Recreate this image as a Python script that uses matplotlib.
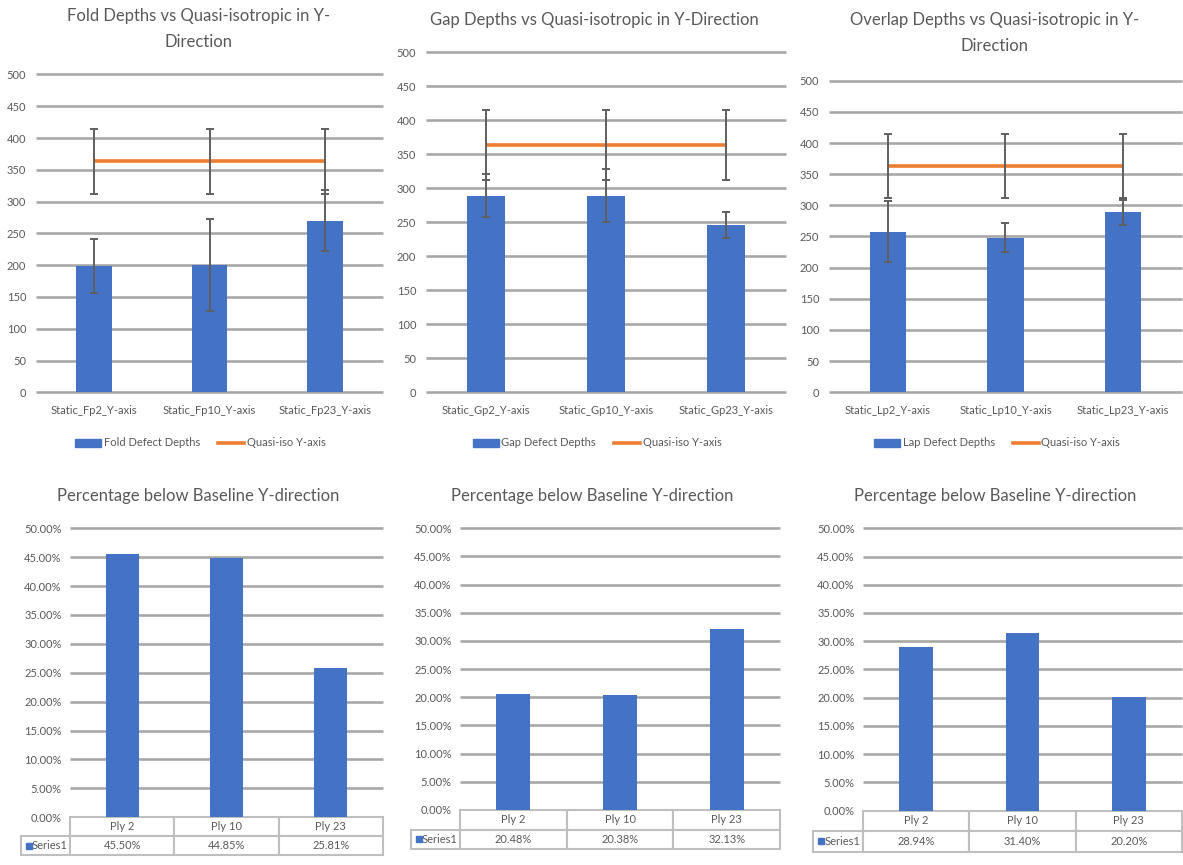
import numpy as np
import matplotlib.pyplot as plt
from matplotlib.patches import Patch
from matplotlib.lines import Line2D
from matplotlib.ticker import MultipleLocator, PercentFormatter

plt.rcParams['font.family'] = ['Lato', 'DejaVu Sans']

# --- data -------------------------------------------------------------
fold_labels = ['Static_Fp2_Y-axis', 'Static_Fp10_Y-axis', 'Static_Fp23_Y-axis']
fold_depth = [198, 200, 270]
fold_err = [42.5, 72, 48]

gap_labels = ['Static_Gp2_Y-axis', 'Static_Gp10_Y-axis', 'Static_Gp23_Y-axis']
gap_depth = [289, 289, 246]
gap_err = [31.5, 39, 19.5]

lap_labels = ['Static_Lp2_Y-axis', 'Static_Lp10_Y-axis', 'Static_Lp23_Y-axis']
lap_depth = [258, 248, 289]
lap_err = [49, 23, 20]

quasi_y = [363.5, 363.5, 363.5]
quasi_err = [51.5, 51.5, 51.5]

ply_labels = ['Ply 2', 'Ply 10', 'Ply 23']
fold_pct = [45.50, 44.85, 25.81]
gap_pct = [20.48, 20.38, 32.13]
lap_pct = [28.94, 31.40, 20.20]

# --- style ------------------------------------------------------------
W, H = 1183, 865
BLUE = '#4472C4'
ORANGE = '#ED7D31'
TXT = '#595959'
GRID = '#A8A8A8'
ERR = '#5F5F5F'

fig = plt.figure(figsize=(W / 100, H / 100), dpi=100)


def px_axes(x0, y0, x1, y1):
    return fig.add_axes([x0 / W, 1 - y1 / H, (x1 - x0) / W, (y1 - y0) / H])


def px_text(x, y, s, **kw):
    fig.text(x / W, 1 - y / H, s, ha='center', va='center', color=TXT, **kw)


def clean(ax, ticks, lo, hi):
    for s in ax.spines.values():
        s.set_visible(False)
    ax.hlines(ticks, lo, hi, color=GRID, lw=1.9, zorder=0, clip_on=False)


def depth_panel(box, title, title_xy, labels, depth, err, name, leg_xy):
    ax = px_axes(*box)
    x = np.arange(len(labels))
    ax.bar(x, depth, width=0.31, color=BLUE, zorder=2)
    ax.errorbar(x, depth, yerr=err, fmt='none', ecolor=ERR, elinewidth=1.4,
                capsize=3, capthick=1.4, zorder=3)
    ax.plot(x, quasi_y, color=ORANGE, lw=2.6, solid_capstyle='butt', zorder=4)
    ax.errorbar(x, quasi_y, yerr=quasi_err, fmt='none', ecolor=ERR,
                elinewidth=1.4, capsize=3, capthick=1.4, zorder=5)
    ax.set_xlim(-0.5, 2.5)
    ax.set_ylim(0, 500)
    ax.yaxis.set_major_locator(MultipleLocator(50))
    clean(ax, np.arange(0, 501, 50), -0.5, 2.5)
    ax.set_xticks(x, labels)
    ax.tick_params(axis='y', length=0, colors=TXT, labelsize=8, pad=7)
    ax.tick_params(axis='x', length=0, colors=TXT, labelsize=8, pad=9)
    px_text(*title_xy, title, fontsize=12, linespacing=1.75)
    handles = [Patch(color=BLUE, label=name),
               Line2D([], [], color=ORANGE, lw=2.6, label='Quasi-iso Y-axis')]
    fig.legend(handles=handles, loc='center', ncol=2, frameon=False,
               bbox_to_anchor=(leg_xy[0] / W, 1 - leg_xy[1] / H),
               fontsize=8, labelcolor=TXT, handlelength=2.4,
               handletextpad=0.2, columnspacing=1.6)
    return ax


def pct_panel(box, title_xy, pct, rl, tbl_h):
    ax = px_axes(*box)
    x = np.arange(len(ply_labels))
    ax.bar(x, np.array(pct) / 100, width=0.316, color=BLUE, zorder=2)
    ax.set_xlim(-0.5, 2.5)
    ax.set_ylim(0, 0.5)
    ax.yaxis.set_major_locator(MultipleLocator(0.05))
    ax.yaxis.set_major_formatter(PercentFormatter(1.0, decimals=2))
    clean(ax, np.arange(0, 0.501, 0.05), -0.5, 2.5)
    ax.set_xticks([])
    ax.tick_params(axis='y', length=0, colors=TXT, labelsize=8, pad=6)
    px_text(*title_xy, 'Percentage below Baseline Y-direction', fontsize=12)
    rows = [[''] + ply_labels, ['Series1'] + [f'{v:.2f}%' for v in pct]]
    tb = ax.table(cellText=rows, colWidths=[rl] + [1 / 3] * 3,
                  cellLoc='center', bbox=[-rl, -tbl_h, 1 + rl, tbl_h])
    tb.auto_set_font_size(False)
    tb.set_fontsize(8)
    for (r, c), cell in tb.get_celld().items():
        cell.set_edgecolor('#BFBFBF')
        cell.set_linewidth(1.5)
        cell.get_text().set_color(TXT)
        if r == 0 and c == 0:
            cell.set_visible(False)
        if r == 1 and c == 0:
            cell.get_text().set_ha('right')
            cell.PAD = 0.05
    ax.plot([-rl + 0.025], [-0.75 * tbl_h], 's', ms=5, color=BLUE,
            transform=ax.transAxes, clip_on=False, zorder=6)
    return ax


depth_panel((36, 74.5, 383, 392.3),
            'Fold Depths vs Quasi-isotropic in Y-\nDirection', (199, 29),
            fold_labels, fold_depth, fold_err, 'Fold Defect Depths', (200, 443))
depth_panel((426, 52.3, 786, 392.3),
            'Gap Depths vs Quasi-isotropic in Y-Direction', (594, 20),
            gap_labels, gap_depth, gap_err, 'Gap Defect Depths', (597, 443))
depth_panel((829, 80.7, 1182, 392.3),
            'Overlap Depths vs Quasi-isotropic in Y-\nDirection', (995, 33),
            lap_labels, lap_depth, lap_err, 'Lap Defect Depths', (997, 443))

pct_panel((70, 528.3, 383, 817.2), (198, 496), fold_pct, 0.157, 0.1315)
pct_panel((460, 528.3, 780, 809.8), (592, 496), gap_pct, 0.153, 0.14)
pct_panel((863, 528.3, 1182, 810.6), (995, 496), lap_pct, 0.156, 0.145)

fig.savefig('out.png', dpi=100)
